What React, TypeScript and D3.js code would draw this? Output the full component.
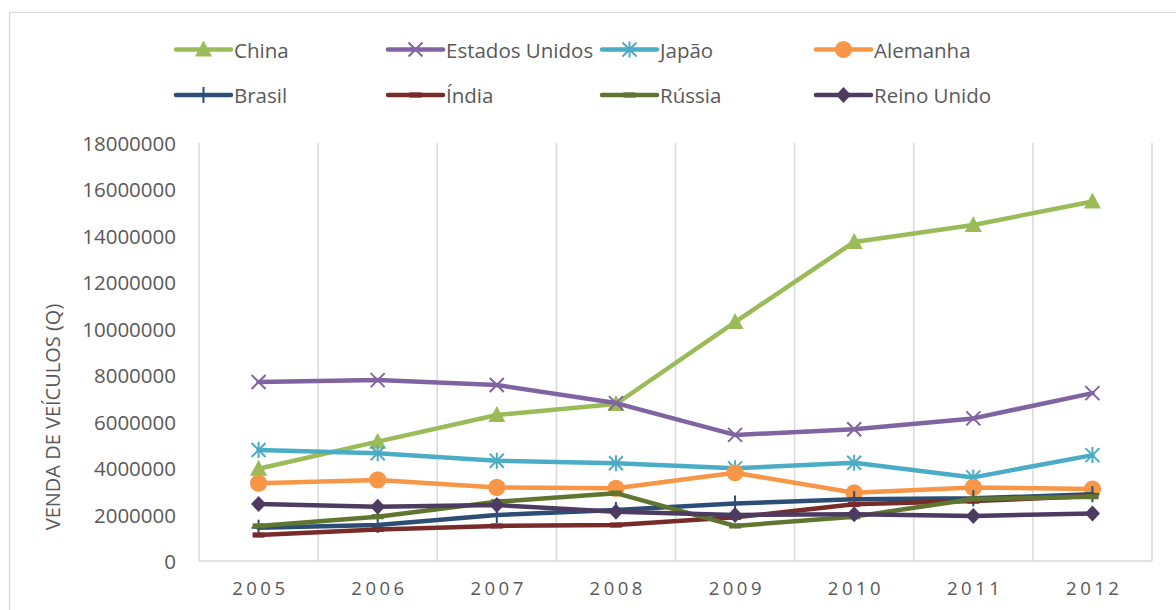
import React from "react";
import * as d3 from "d3";

const years = ["2005", "2006", "2007", "2008", "2009", "2010", "2011", "2012"];
const yTicks = [0, 2000000, 4000000, 6000000, 8000000, 10000000, 12000000, 14000000, 16000000, 18000000];

const china = [3970000, 5140000, 6290000, 6760000, 10290000, 13740000, 14470000, 15480000];
const eua = [7710000, 7790000, 7580000, 6800000, 5430000, 5670000, 6140000, 7230000];
const japao = [4780000, 4640000, 4320000, 4210000, 3990000, 4230000, 3600000, 4560000];
const alemanha = [3350000, 3490000, 3170000, 3130000, 3800000, 2940000, 3170000, 3100000];
const brasil = [1430000, 1550000, 1980000, 2200000, 2480000, 2660000, 2700000, 2870000];
const india = [1120000, 1360000, 1510000, 1550000, 1880000, 2440000, 2580000, 2800000];
const russia = [1510000, 1910000, 2550000, 2920000, 1510000, 1910000, 2670000, 2770000];
const reinoUnido = [2450000, 2340000, 2410000, 2120000, 1980000, 2010000, 1940000, 2050000];

type Marker = "triangle" | "x" | "star" | "circle" | "plus" | "dash" | "diamond";

const series: { name: string; values: number[]; color: string; marker: Marker }[] = [
  { name: "China", values: china, color: "#9BBB59", marker: "triangle" },
  { name: "Estados Unidos", values: eua, color: "#8064A2", marker: "x" },
  { name: "Japão", values: japao, color: "#4BACC6", marker: "star" },
  { name: "Alemanha", values: alemanha, color: "#F79646", marker: "circle" },
  { name: "Brasil", values: brasil, color: "#2C4D75", marker: "plus" },
  { name: "Índia", values: india, color: "#772C2A", marker: "dash" },
  { name: "Rússia", values: russia, color: "#5F7530", marker: "dash" },
  { name: "Reino Unido", values: reinoUnido, color: "#4D3B62", marker: "diamond" },
];

const W = 1176;
const H = 610;
const M = { left: 199, right: 1152, top: 143, bottom: 561 };
const FONT = "'Open Sans', 'Noto Sans', sans-serif";
const TEXT = "#595959";
const GRID = "#D9D9D9";

function MarkerShape({ type, color, x, y }: { type: Marker; color: string; x: number; y: number }) {
  switch (type) {
    case "triangle":
      return <path d={`M${x},${y - 9} L${x + 8.5},${y + 7} L${x - 8.5},${y + 7} Z`} fill={color} />;
    case "circle":
      return <circle cx={x} cy={y} r={8.6} fill={color} />;
    case "diamond":
      return <path d={`M${x},${y - 8} L${x + 7.5},${y} L${x},${y + 8} L${x - 7.5},${y} Z`} fill={color} />;
    case "x":
      return (
        <path
          d={`M${x - 7},${y - 7} L${x + 7},${y + 7} M${x + 7},${y - 7} L${x - 7},${y + 7}`}
          stroke={color}
          strokeWidth={2}
          fill="none"
        />
      );
    case "star":
      return (
        <path
          d={`M${x - 7},${y - 7} L${x + 7},${y + 7} M${x + 7},${y - 7} L${x - 7},${y + 7} M${x},${y - 8} L${x},${y + 8}`}
          stroke={color}
          strokeWidth={2}
          fill="none"
        />
      );
    case "plus":
      return (
        <path
          d={`M${x - 7},${y} L${x + 7},${y} M${x},${y - 8} L${x},${y + 8}`}
          stroke={color}
          strokeWidth={2}
          fill="none"
        />
      );
    case "dash":
      return <rect x={x - 6} y={y - 2.6} width={12} height={5.2} fill={color} />;
  }
  return null;
}

export default function App() {
  const x = d3.scaleBand<string>().domain(years).range([M.left, M.right]);
  const y = d3.scaleLinear().domain([0, 18000000]).range([M.bottom, M.top]);
  const cx = (yr: string) => (x(yr) as number) + x.bandwidth() / 2;
  const line = d3
    .line<number>()
    .x((_, i) => cx(years[i]))
    .y((v) => y(v));

  const gridXs = years.map((yr) => x(yr) as number).concat([M.right]);
  const legendCols = [176, 388, 602, 816];
  const legendRows = [49.5, 95];

  return (
    <svg
      width={W}
      height={H}
      style={{ position: "absolute", left: 0, top: 0, background: "#fff" }}
      fontFamily={FONT}
    >
      <rect x={9.5} y={12.5} width={1300} height={800} fill="#fff" stroke={GRID} strokeWidth={1.2} />

      {gridXs.map((gx, i) => (
        <line key={i} x1={gx} x2={gx} y1={M.top} y2={M.bottom} stroke={GRID} strokeWidth={1.5} />
      ))}
      <line x1={M.left} x2={M.right} y1={M.bottom} y2={M.bottom} stroke={GRID} strokeWidth={1.5} />

      {yTicks.map((t) => (
        <text
          key={t}
          x={176}
          y={y(t)}
          textAnchor="end"
          dominantBaseline="central"
          fontSize={20.5}
          fill={TEXT}
        >
          {t}
        </text>
      ))}

      {years.map((yr) => (
        <text
          key={yr}
          x={cx(yr) + 1.8}
          y={595}
          textAnchor="middle"
          fontSize={18.5}
          letterSpacing={3.5}
          fill={TEXT}
        >
          {yr}
        </text>
      ))}

      <text
        transform={`translate(52, ${(M.top + M.bottom) / 2 + 65}) rotate(-90)`}
        textAnchor="middle"
        dominantBaseline="central"
        fontSize={20}
        fill={TEXT}
      >
        VENDA DE VEÍCULOS (Q)
      </text>

      {series.map((s) => (
        <g key={s.name}>
          <path
            d={line(s.values) || ""}
            fill="none"
            stroke={s.color}
            strokeWidth={4.5}
            strokeLinejoin="round"
            strokeLinecap="round"
          />
          {s.values.map((v, i) => (
            <MarkerShape key={i} type={s.marker} color={s.color} x={cx(years[i])} y={y(v)} />
          ))}
        </g>
      ))}

      {series.map((s, i) => {
        const lx = legendCols[i % 4];
        const ly = legendRows[Math.floor(i / 4)];
        return (
          <g key={"lg" + s.name}>
            <line x1={lx} x2={lx + 55} y1={ly} y2={ly} stroke={s.color} strokeWidth={4.5} strokeLinecap="round" />
            <MarkerShape type={s.marker} color={s.color} x={lx + 27.5} y={ly} />
            <text x={lx + 58} y={ly} dominantBaseline="central" fontSize={20.5} fill={TEXT}>
              {s.name}
            </text>
          </g>
        );
      })}
    </svg>
  );
}
